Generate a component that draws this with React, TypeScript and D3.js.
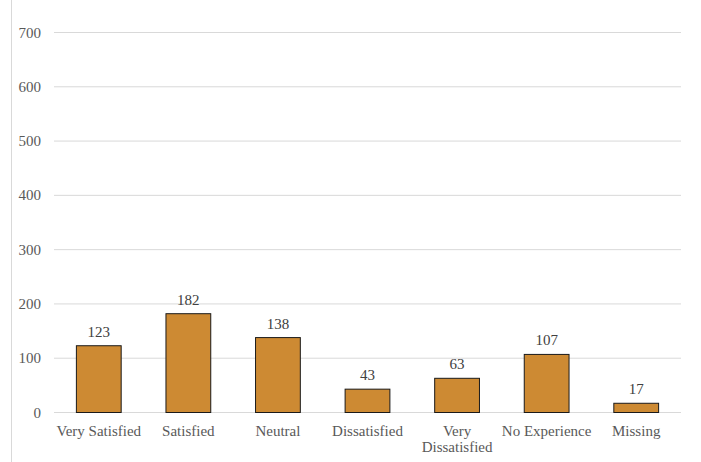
import React from "react";
import * as d3 from "d3";

const categories: string[][] = [
  ["Very Satisfied"],
  ["Satisfied"],
  ["Neutral"],
  ["Dissatisfied"],
  ["Very", "Dissatisfied"],
  ["No Experience"],
  ["Missing"],
];
const values: number[] = [123, 182, 138, 43, 63, 107, 17];
const yTicks: number[] = [0, 100, 200, 300, 400, 500, 600, 700];

export default function App() {
  const W = 701, H = 462;
  const left = 54, right = 681, top = 32.5, bottom = 412.5;
  const keys = categories.map((c) => c.join(" "));
  const x = d3.scaleBand<string>().domain(keys).range([left, right]).paddingInner(0.5).paddingOuter(0.25);
  const y = d3.scaleLinear().domain([0, 700]).range([bottom, top]);
  const font = "'Liberation Serif', 'Times New Roman', serif";
  return (
    <svg width={W} height={H} style={{ position: "absolute", left: 0, top: 0 }} fontFamily={font}>
      <rect x={0} y={0} width={W} height={H} fill="#fff" />
      <line x1={11.5} x2={11.5} y1={0} y2={H} stroke="#d9d9d9" strokeWidth={1} />
      {yTicks.map((t) => (
        <g key={t}>
          <line x1={left} x2={right} y1={y(t)} y2={y(t)} stroke="#d9d9d9" strokeWidth={1} />
          <text x={41} y={y(t) + 5} textAnchor="end" fontSize={15} fill="#595959">{t}</text>
        </g>
      ))}
      {values.map((v, i) => {
        const k = keys[i];
        const bx = x(k)!;
        const bw = x.bandwidth();
        return (
          <g key={k}>
            <rect x={bx} y={y(v)} width={bw} height={y(0) - y(v)} fill="#CD8A33" stroke="#1a1a1a" strokeWidth={1} />
            <text x={bx + bw / 2} y={y(v) - 9} textAnchor="middle" fontSize={15} fill="#404040">{v}</text>
            {categories[i].map((line, j) => (
              <text key={j} x={bx + bw / 2} y={436 + j * 16} textAnchor="middle" fontSize={15} fill="#595959">{line}</text>
            ))}
          </g>
        );
      })}
    </svg>
  );
}
